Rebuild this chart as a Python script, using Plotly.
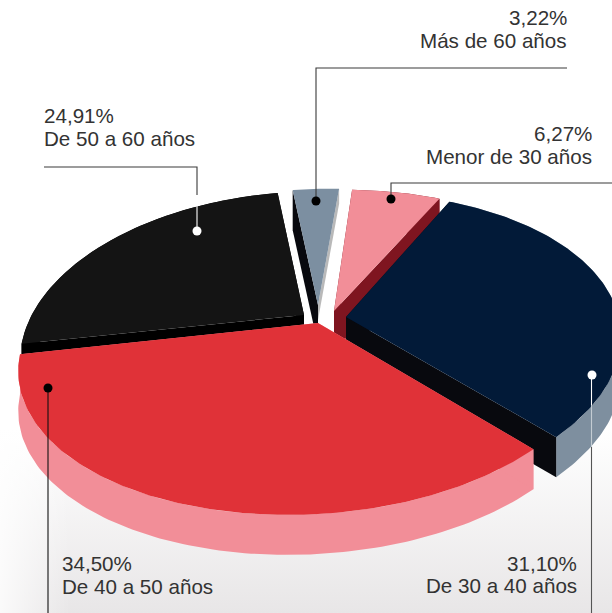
import numpy as np
import plotly.graph_objects as go

# ---- data, clockwise from the top of the pie ----
groups = ["Más de 60 años", "Menor de 30 años", "De 30 a 40 años", "De 40 a 50 años", "De 50 a 60 años"]
shares = [3.22, 6.27, 31.10, 34.50, 24.91]
share_labels = ["3,22%", "6,27%", "31,10%", "34,50%", "24,91%"]

# ---- styles ----
top_colors = ["#7c8fa1", "#f28e98", "#021a38", "#e03238", "#141414"]
rim_colors = ["#7c8fa1", "#7f1520", "#7e8f9f", "#f28e98", "#000000"]
start_face_colors = ["#08090e", "#7f1520", "#08090e", "#f28e98", "#000000"]
end_face_colors = ["#b9b9b9", "#7f1520", "#08090e", "#f28e98", "#000000"]
apex_x = [318, 334, 346, 318, 304]
apex_y = [305, 311, 317, 323, 315]
# per-slice adjustment of the outer edge to the drawing's hand-made perspective
scale_x = [1.0, 1.0, 1.0, 1.015, 0.965]
scale_y = [0.96, 1.0, 1.0, 1.0, 1.02]
shift_x = [2, -1, -3, -1, 0]
shift_y = [0, 0, -3, 3, 0]
end_face_depth = [15, 40, 40, 40, 40]
rim_depth = [0, 40, 40, 40, 40]
DEPTH = 40
draw_order = [4, 0, 1, 2, 3]

# perspective projection of the pie's disc on to the page
A, B, C, D, K, M, START = 279.134, 3.758, 8.108, 147.4, 0.2173, 0.0249, -7.58


def project(theta):
    a = np.radians(theta + START)
    u, v = np.sin(a), np.cos(a)
    w = 1 + K * v + M * u
    return (A * u + B * v) / w, -(C * u + D * v) / w


edges = np.cumsum([0] + shares) / sum(shares) * 360
fig = go.Figure()


def polygon(xs, ys, color):
    fig.add_trace(go.Scatter(x=list(xs), y=list(ys), mode="lines", fill="toself", fillcolor=color,
                             line=dict(width=0, color=color), hoverinfo="skip", showlegend=False))


# page background
fig.add_trace(go.Scatter(x=[0, 612, 612, 0, 0], y=[0, 0, 613, 613, 0], mode="lines", fill="toself",
                         line=dict(width=0), hoverinfo="skip", showlegend=False,
                         fillgradient=dict(type="vertical", start=430, stop=613,
                                           colorscale=[[0, "#ffffff"], [1, "#e8e6e7"]])))
fig.add_trace(go.Scatter(x=[0, 70, 70, 0, 0], y=[430, 430, 613, 613, 430], mode="lines", fill="toself",
                         line=dict(width=0), hoverinfo="skip", showlegend=False,
                         fillgradient=dict(type="horizontal", start=0, stop=70,
                                           colorscale=[[0, "rgba(255,255,255,0.8)"], [1, "rgba(255,255,255,0)"]])))

# pie slices, back to front
for i in draw_order:
    ax, ay = apex_x[i], apex_y[i]
    th = np.linspace(edges[i], edges[i + 1], 120)
    ox, oy = project(th)
    ox, oy = ox * scale_x[i] + ax + shift_x[i], oy * scale_y[i] + ay + shift_y[i]
    if rim_depth[i]:
        polygon(np.r_[ox, ox[::-1]], np.r_[oy, oy[::-1] + rim_depth[i]], rim_colors[i])
    polygon([ax, ox[0], ox[0], ax], [ay, oy[0], oy[0] + DEPTH, ay + DEPTH], start_face_colors[i])
    d = end_face_depth[i]
    polygon([ax, ox[-1], ox[-1], ax], [ay, oy[-1], oy[-1] + d, ay + d], end_face_colors[i])
    polygon(np.r_[ax, ox], np.r_[ay, oy], top_colors[i])

# leader lines
leaders = [
    ([567, 316, 316], [68, 68, 201], "#3a3a3a"),
    ([612, 391, 391], [183, 183, 199], "#3a3a3a"),
    ([197, 197, 44], [195, 167, 167], "#3a3a3a"),
    ([197, 197], [231, 195], "#ffffff"),
    ([48, 48], [388, 613], "#111111"),
    ([591.5, 591.5], [375, 405], "#ffffff"),
    ([591.5, 591.5], [405, 447], "#c4ccd3"),
    ([591.5, 591.5], [447, 613], "#555555"),
]
for xs, ys, color in leaders:
    fig.add_trace(go.Scatter(x=xs, y=ys, mode="lines", line=dict(width=1.1, color=color),
                             hoverinfo="skip", showlegend=False))

fig.add_trace(go.Scatter(x=[316, 391, 592, 48, 197], y=[201, 199, 375, 388, 231], mode="markers",
                         marker=dict(size=9, color=["#000000", "#000000", "#ffffff", "#000000", "#ffffff"]),
                         hoverinfo="skip", showlegend=False))

# labels: (x, anchor, first line centre, second line centre)
label_pos = [(568, "right", 17, 40), (593, "right", 133, 156), (578, "right", 563, 585),
             (61, "left", 563, 586), (43, "left", 115, 138)]
annotations = []
for i, (x, anchor, y1, y2) in enumerate(label_pos):
    for y, text in ((y1, share_labels[i]), (y2, groups[i])):
        annotations.append(dict(x=x, y=y, xref="x", yref="y", text=text, showarrow=False, xanchor=anchor,
                                yanchor="middle", borderpad=0,
                                font=dict(family="Liberation Sans", size=20.6, color="#333333")))

fig.update_layout(width=612, height=613, margin=dict(l=0, r=0, t=0, b=0), showlegend=False,
                  paper_bgcolor="#ffffff", plot_bgcolor="#ffffff", annotations=annotations,
                  xaxis=dict(visible=False, range=[0, 612], fixedrange=True),
                  yaxis=dict(visible=False, range=[613, 0], fixedrange=True))
fig.write_html("out.html", config=dict(displayModeBar=False),
               post_script="document.body.style.margin='0';document.body.style.overflow='hidden';")
